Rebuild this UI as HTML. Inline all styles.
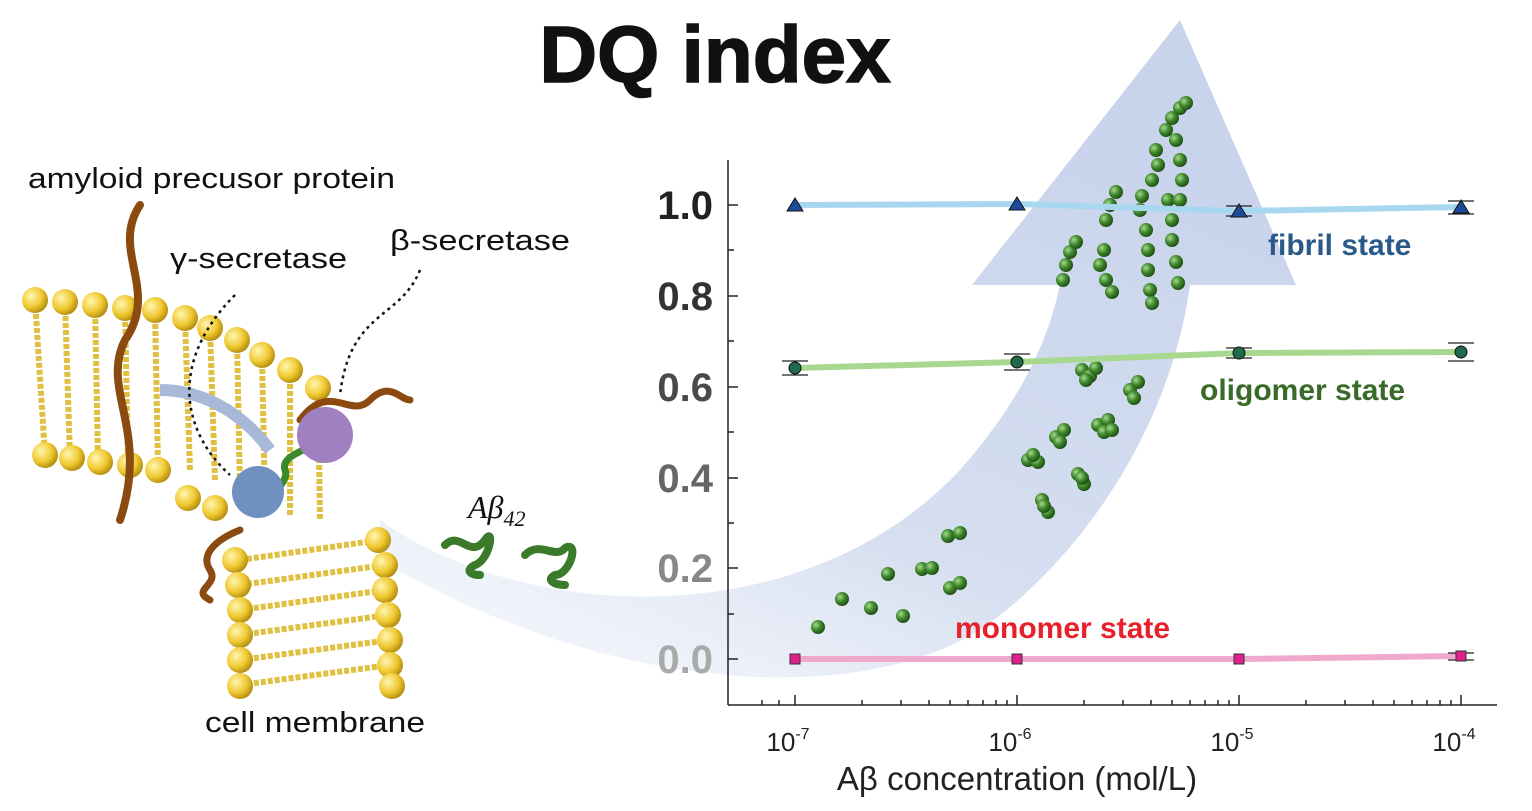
<!DOCTYPE html>
<html><head><meta charset="utf-8"><style>
html,body{margin:0;padding:0;background:#fff;}
svg{display:block}
</style></head><body>
<svg width="1532" height="811" viewBox="0 0 1532 811" xmlns="http://www.w3.org/2000/svg" font-family="Liberation Sans, sans-serif">
<defs>
<linearGradient id="arr" x1="0" y1="1" x2="0.6" y2="0">
<stop offset="0" stop-color="#e8edf7" stop-opacity="0.3"/>
<stop offset="0.4" stop-color="#d6dff0"/>
<stop offset="1" stop-color="#c8d3ec"/>
</linearGradient>
<radialGradient id="gb" cx="0.35" cy="0.35" r="0.7">
<stop offset="0" stop-color="#a8d890"/><stop offset="0.5" stop-color="#3f8a2c"/><stop offset="1" stop-color="#1d4a14"/>
</radialGradient>
<radialGradient id="yb" cx="0.35" cy="0.35" r="0.7">
<stop offset="0" stop-color="#fff6b0"/><stop offset="0.6" stop-color="#f0c830"/><stop offset="1" stop-color="#b08a10"/>
</radialGradient>
</defs>
<rect width="1532" height="811" fill="#fff"/>
<!-- big arrow -->
<path d="M380,520 C520,620 800,640 960,470 C1030,390 1050,330 1060,285 L972,285 L1180,20 L1296,285 L1190,285 C1170,430 1080,560 980,630 C850,710 600,690 380,560 Z" fill="url(#arr)"/>
<!-- title -->
<text x="715" y="82" font-size="80" font-weight="bold" text-anchor="middle" fill="#111" stroke="#111" stroke-width="1.5">DQ index</text>
<!-- axes -->
<g stroke="#222" stroke-width="1.5" fill="none">
<line x1="728" y1="160" x2="728" y2="705"/>
<line x1="728" y1="705" x2="1497" y2="705"/>
<line x1="728" y1="205" x2="738" y2="205"/><line x1="728" y1="296" x2="738" y2="296"/><line x1="728" y1="387" x2="738" y2="387"/><line x1="728" y1="478" x2="738" y2="478"/><line x1="728" y1="568" x2="738" y2="568"/><line x1="728" y1="659" x2="738" y2="659"/>
<line x1="728" y1="250" x2="734" y2="250"/><line x1="728" y1="341" x2="734" y2="341"/><line x1="728" y1="432" x2="734" y2="432"/><line x1="728" y1="523" x2="734" y2="523"/><line x1="728" y1="614" x2="734" y2="614"/>
<line x1="795" y1="705" x2="795" y2="695"/><line x1="1017" y1="705" x2="1017" y2="695"/><line x1="1239" y1="705" x2="1239" y2="695"/><line x1="1461" y1="705" x2="1461" y2="695"/>
<line x1="762" y1="705" x2="762" y2="700"/><line x1="779" y1="705" x2="779" y2="700"/>
<line x1="862" y1="705" x2="862" y2="700"/><line x1="901" y1="705" x2="901" y2="700"/><line x1="929" y1="705" x2="929" y2="700"/><line x1="950" y1="705" x2="950" y2="700"/><line x1="968" y1="705" x2="968" y2="700"/><line x1="983" y1="705" x2="983" y2="700"/><line x1="996" y1="705" x2="996" y2="700"/><line x1="1007" y1="705" x2="1007" y2="700"/>
<line x1="1084" y1="705" x2="1084" y2="700"/><line x1="1123" y1="705" x2="1123" y2="700"/><line x1="1151" y1="705" x2="1151" y2="700"/><line x1="1172" y1="705" x2="1172" y2="700"/><line x1="1190" y1="705" x2="1190" y2="700"/><line x1="1205" y1="705" x2="1205" y2="700"/><line x1="1218" y1="705" x2="1218" y2="700"/><line x1="1229" y1="705" x2="1229" y2="700"/>
<line x1="1306" y1="705" x2="1306" y2="700"/><line x1="1345" y1="705" x2="1345" y2="700"/><line x1="1373" y1="705" x2="1373" y2="700"/><line x1="1394" y1="705" x2="1394" y2="700"/><line x1="1412" y1="705" x2="1412" y2="700"/><line x1="1427" y1="705" x2="1427" y2="700"/><line x1="1440" y1="705" x2="1440" y2="700"/><line x1="1451" y1="705" x2="1451" y2="700"/>
</g>
<g font-size="40" font-weight="bold" text-anchor="end">
<text x="713" y="219" fill="#222">1.0</text>
<text x="713" y="310" fill="#333">0.8</text>
<text x="713" y="401" fill="#4a4a4a">0.6</text>
<text x="713" y="492" fill="#666">0.4</text>
<text x="713" y="582" fill="#888">0.2</text>
<text x="713" y="673" fill="#aaa">0.0</text>
</g>
<g font-size="26" text-anchor="middle" fill="#222">
<text x="788" y="751">10<tspan font-size="16" dy="-12">-7</tspan></text>
<text x="1010" y="751">10<tspan font-size="16" dy="-12">-6</tspan></text>
<text x="1232" y="751">10<tspan font-size="16" dy="-12">-5</tspan></text>
<text x="1454" y="751">10<tspan font-size="16" dy="-12">-4</tspan></text>
</g>
<text x="1017" y="790" font-size="33" text-anchor="middle" fill="#222">Aβ concentration (mol/L)</text>
<!-- green particles -->
<g fill="url(#gb)">
<circle cx="818" cy="627" r="7"/><circle cx="842" cy="599" r="7"/><circle cx="871" cy="608" r="7"/><circle cx="888" cy="574" r="7"/><circle cx="903" cy="616" r="7"/>
<circle cx="922" cy="569" r="7"/><circle cx="932" cy="568" r="7"/><circle cx="948" cy="536" r="7"/><circle cx="960" cy="533" r="7"/><circle cx="950" cy="588" r="7"/><circle cx="960" cy="583" r="7"/>
<circle cx="1028" cy="460" r="7"/><circle cx="1038" cy="462" r="7"/><circle cx="1033" cy="455" r="7"/>
<circle cx="1056" cy="437" r="7"/><circle cx="1064" cy="430" r="7"/><circle cx="1060" cy="442" r="7"/>
<circle cx="1042" cy="500" r="7"/><circle cx="1048" cy="512" r="7"/><circle cx="1044" cy="506" r="7"/>
<circle cx="1078" cy="474" r="7"/><circle cx="1084" cy="484" r="7"/><circle cx="1082" cy="478" r="7"/>
<circle cx="1082" cy="370" r="7"/><circle cx="1090" cy="376" r="7"/><circle cx="1096" cy="368" r="7"/><circle cx="1086" cy="380" r="7"/>
<circle cx="1098" cy="425" r="7"/><circle cx="1108" cy="420" r="7"/><circle cx="1104" cy="432" r="7"/><circle cx="1112" cy="430" r="7"/>
<circle cx="1130" cy="390" r="7"/><circle cx="1138" cy="382" r="7"/><circle cx="1134" cy="398" r="7"/>
<circle cx="1063" cy="280" r="7"/><circle cx="1066" cy="265" r="7"/><circle cx="1070" cy="252" r="7"/><circle cx="1076" cy="242" r="7"/>
<circle cx="1100" cy="265" r="7"/><circle cx="1104" cy="250" r="7"/><circle cx="1106" cy="280" r="7"/><circle cx="1112" cy="292" r="7"/>
<circle cx="1106" cy="220" r="7"/><circle cx="1110" cy="205" r="7"/><circle cx="1116" cy="192" r="7"/>
<circle cx="1140" cy="210" r="7"/><circle cx="1146" cy="230" r="7"/><circle cx="1148" cy="250" r="7"/><circle cx="1148" cy="270" r="7"/><circle cx="1150" cy="290" r="7"/><circle cx="1152" cy="303" r="7"/>
<circle cx="1142" cy="196" r="7"/><circle cx="1152" cy="180" r="7"/><circle cx="1158" cy="165" r="7"/><circle cx="1156" cy="150" r="7"/>
<circle cx="1168" cy="200" r="7"/><circle cx="1172" cy="220" r="7"/><circle cx="1172" cy="240" r="7"/><circle cx="1176" cy="262" r="7"/><circle cx="1178" cy="283" r="7"/>
<circle cx="1166" cy="130" r="7"/><circle cx="1172" cy="118" r="7"/><circle cx="1180" cy="108" r="7"/><circle cx="1186" cy="103" r="7"/><circle cx="1176" cy="140" r="7"/><circle cx="1180" cy="160" r="7"/><circle cx="1182" cy="180" r="7"/><circle cx="1180" cy="200" r="7"/>
</g>
<!-- series lines -->
<polyline points="795,205 1017,204 1239,211 1461,207" fill="none" stroke="#a8d8f0" stroke-width="6"/>
<polyline points="795,368 1017,362 1239,353 1461,352" fill="none" stroke="#a8d890" stroke-width="6"/>
<polyline points="795,659 1017,659 1239,659 1461,656" fill="none" stroke="#f0a8cc" stroke-width="6"/>
<g stroke="#222" stroke-width="1.2" fill="none">
<line x1="1226" y1="206" x2="1252" y2="206"/><line x1="1226" y1="216" x2="1252" y2="216"/><line x1="1239" y1="206" x2="1239" y2="216"/>
<line x1="1448" y1="201" x2="1474" y2="201"/><line x1="1448" y1="214" x2="1474" y2="214"/>
<line x1="782" y1="361" x2="808" y2="361"/><line x1="782" y1="375" x2="808" y2="375"/>
<line x1="1004" y1="354" x2="1030" y2="354"/><line x1="1004" y1="370" x2="1030" y2="370"/>
<line x1="1226" y1="348" x2="1252" y2="348"/><line x1="1226" y1="358" x2="1252" y2="358"/>
<line x1="1448" y1="343" x2="1474" y2="343"/><line x1="1448" y1="361" x2="1474" y2="361"/>
<line x1="1448" y1="653" x2="1474" y2="653"/><line x1="1448" y1="660" x2="1474" y2="660"/>
</g>
<g fill="#1e4a9a" stroke="#111" stroke-width="1">
<polygon points="795,198 787,211 803,211"/><polygon points="1017,197 1009,210 1025,210"/><polygon points="1239,204 1231,217 1247,217"/><polygon points="1461,200 1453,213 1469,213"/>
</g>
<g fill="#1e6a4a" stroke="#111" stroke-width="1">
<circle cx="795" cy="368" r="6"/><circle cx="1017" cy="362" r="6"/><circle cx="1239" cy="353" r="6"/><circle cx="1461" cy="352" r="6"/>
</g>
<g fill="#e0208a" stroke="#333" stroke-width="1">
<rect x="790" y="654" width="10" height="10"/><rect x="1012" y="654" width="10" height="10"/><rect x="1234" y="654" width="10" height="10"/><rect x="1456" y="651" width="10" height="10"/>
</g>
<text x="1268" y="255" font-size="30" font-weight="bold" fill="#2a5a8a">fibril state</text>
<text x="1200" y="400" font-size="30" font-weight="bold" fill="#3a6a2a">oligomer state</text>
<text x="955" y="638" font-size="30" font-weight="bold" fill="#e8202a">monomer state</text>
<!-- left illustration: lipid tails -->
<g stroke="#e0c040" stroke-width="6" fill="none" stroke-dasharray="5,2">
<path d="M35,300 L45,455 M65,302 L70,458 M95,305 L98,460 M125,308 L128,463 M155,310 L158,466 M185,318 L190,470 M210,328 L215,480 M237,340 L240,490 M262,355 L265,505 M290,370 L290,515 M318,388 L320,520"/>
<path d="M240,560 L380,540 M240,585 L385,565 M240,610 L385,590 M240,635 L388,615 M240,660 L390,640 M240,685 L390,665"/>
</g>
<g fill="url(#yb)">
<circle cx="35" cy="300" r="13"/><circle cx="65" cy="302" r="13"/><circle cx="95" cy="305" r="13"/><circle cx="125" cy="308" r="13"/><circle cx="155" cy="310" r="13"/><circle cx="185" cy="318" r="13"/><circle cx="210" cy="328" r="13"/><circle cx="237" cy="340" r="13"/><circle cx="262" cy="355" r="13"/><circle cx="290" cy="370" r="13"/><circle cx="318" cy="388" r="13"/>
<circle cx="45" cy="455" r="13"/><circle cx="72" cy="458" r="13"/><circle cx="100" cy="462" r="13"/><circle cx="130" cy="465" r="13"/><circle cx="158" cy="470" r="13"/><circle cx="188" cy="498" r="13"/><circle cx="215" cy="508" r="13"/>
<circle cx="235" cy="560" r="13"/><circle cx="238" cy="585" r="13"/><circle cx="240" cy="610" r="13"/><circle cx="240" cy="635" r="13"/><circle cx="240" cy="660" r="13"/><circle cx="240" cy="686" r="13"/>
<circle cx="378" cy="540" r="13"/><circle cx="385" cy="565" r="13"/><circle cx="385" cy="590" r="13"/><circle cx="388" cy="615" r="13"/><circle cx="390" cy="640" r="13"/><circle cx="390" cy="665" r="13"/><circle cx="392" cy="686" r="13"/>
</g>
<!-- APP -->
<path d="M140,205 C110,250 160,290 125,340 C100,390 150,430 120,520" fill="none" stroke="#8a4a10" stroke-width="8" stroke-linecap="round"/>
<path d="M300,420 C330,380 350,420 370,400 C390,380 400,400 410,400" fill="none" stroke="#8a4a10" stroke-width="7" stroke-linecap="round"/>
<path d="M240,530 C215,540 200,555 210,570 C220,585 190,590 210,600" fill="none" stroke="#8a4a10" stroke-width="7" stroke-linecap="round"/>
<path d="M250,510 C270,500 290,480 285,470 C280,455 310,450 320,440" fill="none" stroke="#3a8a2a" stroke-width="7"/>
<circle cx="325" cy="435" r="28" fill="#a080c0"/>
<circle cx="258" cy="492" r="26" fill="#7090c0"/>
<path d="M160,390 C200,390 240,410 270,450" fill="none" stroke="#a8b8d8" stroke-width="12"/>
<path d="M235,295 C170,360 180,430 230,475" fill="none" stroke="#111" stroke-width="2.5" stroke-dasharray="3,4"/>
<path d="M420,270 C400,320 350,310 340,395" fill="none" stroke="#111" stroke-width="2.5" stroke-dasharray="3,4"/>
<!-- Abeta42 -->
<path d="M445,545 C460,530 470,560 485,540 C495,525 490,560 475,565 C465,570 470,575 480,575" fill="none" stroke="#3a7a2a" stroke-width="8" stroke-linecap="round"/>
<path d="M525,555 C540,540 555,560 565,548 C580,540 570,575 555,575 C545,580 555,585 565,585" fill="none" stroke="#3a7a2a" stroke-width="8" stroke-linecap="round"/>
<text x="468" y="518" font-family="Liberation Serif, serif" font-style="italic" font-size="32" fill="#111">Aβ<tspan font-size="22" dy="8">42</tspan></text>
<g font-size="29" fill="#111">
<text x="28" y="188" textLength="367" lengthAdjust="spacingAndGlyphs">amyloid precusor protein</text>
<text x="170" y="268" textLength="177" lengthAdjust="spacingAndGlyphs">γ-secretase</text>
<text x="390" y="250" textLength="180" lengthAdjust="spacingAndGlyphs">β-secretase</text>
<text x="205" y="732" textLength="220" lengthAdjust="spacingAndGlyphs">cell membrane</text>
</g>
</svg>
</body></html>
